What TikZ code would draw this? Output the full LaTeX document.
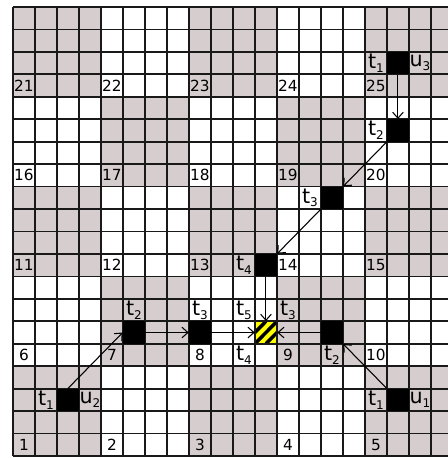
\documentclass[tikz,border=0pt]{standalone}
\usepackage{fontspec}
\setmainfont{DejaVu Sans}
\usepackage{tikz}
\usetikzlibrary{arrows.meta}
\definecolor{cellgray}{RGB}{214,205,206}
\definecolor{gridline}{RGB}{25,25,25}
\definecolor{goalyellow}{RGB}{255,255,0}
\newcommand{\tsub}[2]{#1\raisebox{-0.35ex}{\fontsize{9}{9}\selectfont #2}}
\tikzstyle{agent}=[rectangle,fill=black,inner sep=0pt,minimum width=16.5pt,minimum height=16.84pt]
\tikzstyle{goal}=[agent,fill=goalyellow]
\tikzstyle{lbl}=[inner sep=0pt,font=\fontsize{15.5}{16}\selectfont]
\tikzstyle{blocknum}=[inner sep=0pt,font=\fontsize{11.5}{12}\selectfont]
\tikzstyle{move}=[-{Straight Barb[length=4.5pt,width=8pt]},line width=0.8pt]

\begin{document}
\begin{tikzpicture}[x=16.5pt,y=16.84pt]
  \useasboundingbox (-0.591,-0.089) rectangle (19.773,20.312);
  % 4x4 blocks, checkerboard
  \foreach \bx in {0,...,4}
    \foreach \by in {0,...,4} {
      \pgfmathtruncatemacro{\odd}{mod(\bx+\by,2)}
      \ifnum\odd=0 \fill[cellgray] (4*\bx,4*\by) rectangle ++(4,4); \fi
    }
  \foreach \i in {0,...,20} {
    \draw[gridline,line width=1.3pt] (\i,0) -- (\i,20);
    \draw[gridline,line width=1.3pt] (0,\i) -- (20,\i);
  }
  \foreach \bx in {0,...,4}
    \foreach \by in {0,...,4} {
      \pgfmathtruncatemacro{\num}{5*\by+\bx+1}
      \node[blocknum] (n\num) at (4*\bx+0.5,4*\by+0.5) {\num};
    }

  % goal cell
  \node[goal] (goal) at (11.5,5.5) {};
  \begin{scope}
    \clip (11,5) rectangle (12,6);
    \foreach \s in {-1,-0.5,...,1}
      \draw[line width=2.6pt] (11+\s,5) -- (12+\s,6);
  \end{scope}
  \draw[gridline,line width=1.3pt] (11,5) rectangle (12,6);

  % agent u3
  \node[agent] (a1) at (17.5,17.5) {};
  \node[agent] (a2) at (17.5,14.5) {};
  \node[agent] (a3) at (14.5,11.5) {};
  \node[agent] (a4) at (11.5,8.5) {};
  \node[lbl] (a1t) at (16.5,17.5) {\tsub{t}{1}};
  \node[lbl] (a1u) at (18.5,17.5) {\tsub{u}{3}};
  \node[lbl] (a2t) at (16.5,14.5) {\tsub{t}{2}};
  \node[lbl] (a3t) at (13.5,11.5) {\tsub{t}{3}};
  \node[lbl] (a4t) at (10.5,8.5) {\tsub{t}{4}};
  \node[lbl] (a5t) at (10.5,6.5) {\tsub{t}{5}};

  % agent u2
  \node[agent] (b1) at (2.5,2.5) {};
  \node[agent] (b2) at (5.5,5.5) {};
  \node[agent] (b3) at (8.5,5.5) {};
  \node[lbl] (b1t) at (1.5,2.5) {\tsub{t}{1}};
  \node[lbl] (b1u) at (3.5,2.5) {\tsub{u}{2}};
  \node[lbl] (b2t) at (5.5,6.5) {\tsub{t}{2}};
  \node[lbl] (b3t) at (8.5,6.5) {\tsub{t}{3}};
  \node[lbl] (b4t) at (10.5,4.5) {\tsub{t}{4}};

  % agent u1
  \node[agent] (c1) at (17.5,2.5) {};
  \node[agent] (c2) at (14.5,5.5) {};
  \node[lbl] (c1t) at (16.5,2.5) {\tsub{t}{1}};
  \node[lbl] (c1u) at (18.5,2.5) {\tsub{u}{1}};
  \node[lbl] (c2t) at (14.5,4.5) {\tsub{t}{2}};
  \node[lbl] (c3t) at (12.5,6.5) {\tsub{t}{3}};

  \draw[move] (a1.south) -- (a2.north);
  \draw[move] (a2.south west) -- (a3.north east);
  \draw[move] (a3.south west) -- (a4.north east);
  \draw[move] (a4.south) -- (goal.north);
  \draw[move] (b1.north) -- (b2.west);
  \draw[move] (b2.east) -- (b3.west);
  \draw[move] (b3.east) -- (goal.west);
  \draw[move] (c1.north west) -- (c2.south east);
  \draw[move] (c2.west) -- (goal.east);
\end{tikzpicture}
\end{document}
